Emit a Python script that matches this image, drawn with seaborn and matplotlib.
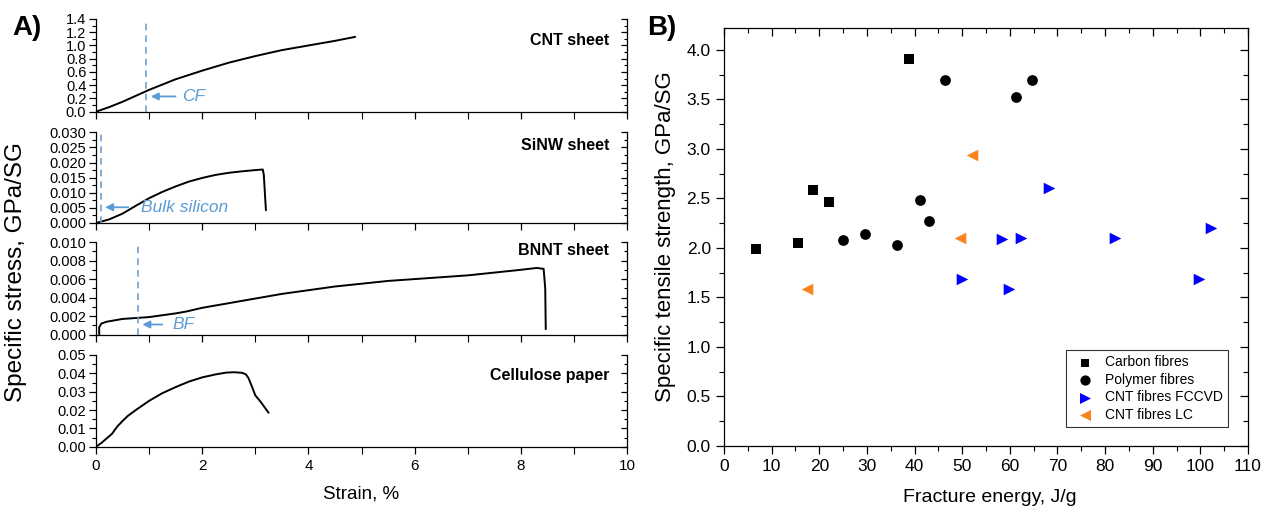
import matplotlib
matplotlib.use("Agg")
import matplotlib.pyplot as plt
import pandas as pd
import seaborn as sns
from matplotlib.ticker import MultipleLocator, FormatStrFormatter, NullFormatter

# ---------------- Panel A data (strain %, specific stress GPa/SG) ----------------
cnt_strain = [0, 0.25, 0.5, 0.75, 1.0, 1.5, 2.0, 2.5, 3.0, 3.5, 4.0, 4.5, 4.88]
cnt_stress = [0, 0.07, 0.15, 0.24, 0.33, 0.49, 0.62, 0.74, 0.84, 0.93, 1.00, 1.07, 1.13]

sinw_strain = [0, 0.25, 0.5, 0.75, 1.0, 1.25, 1.5, 1.75, 2.0, 2.25, 2.5, 2.75, 3.0, 3.14, 3.16, 3.2]
sinw_stress = [0, 0.0012, 0.0031, 0.0057, 0.0082, 0.0103, 0.0121, 0.0137, 0.0149, 0.0159,
               0.0166, 0.0171, 0.0175, 0.0177, 0.0160, 0.0042]

bnnt_strain = [0.06, 0.06, 0.1, 0.2, 0.5, 1.0, 1.5, 1.7, 2.0, 2.5, 3.0, 3.5, 4.0, 4.5, 5.0,
               5.5, 6.0, 6.5, 7.0, 7.5, 8.0, 8.3, 8.43, 8.46, 8.47]
bnnt_stress = [0, 0.0008, 0.0012, 0.0014, 0.0017, 0.0019, 0.0023, 0.0025, 0.0029, 0.0034,
               0.0039, 0.0044, 0.0048, 0.0052, 0.0055, 0.0058, 0.0060, 0.0062, 0.0064,
               0.0067, 0.0070, 0.0072, 0.0071, 0.0050, 0.0006]

cell_strain = [0, 0.1, 0.2, 0.3, 0.4, 0.5, 0.6, 0.75, 1.0, 1.25, 1.5, 1.75, 2.0, 2.25, 2.45,
               2.6, 2.75, 2.82, 2.87, 2.92, 3.0, 3.1, 3.25]
cell_stress = [0, 0.002, 0.0045, 0.007, 0.011, 0.0140, 0.0168, 0.0200, 0.0250, 0.0292,
               0.0325, 0.0355, 0.0378, 0.0394, 0.0404, 0.0406, 0.0403, 0.0395, 0.0375,
               0.0340, 0.0280, 0.0245, 0.0185]

sample_names = ["CNT sheet", "SiNW sheet", "BNNT sheet", "Cellulose paper"]

# ---------------- Panel B data (fracture energy J/g, specific strength GPa/SG) ----------------
carbon_energy = [6.7, 15.5, 18.7, 22.1, 38.9]
carbon_strength = [1.99, 2.05, 2.58, 2.46, 3.91]

polymer_energy = [24.9, 29.7, 36.3, 41.1, 43.0, 46.3, 61.3, 64.6]
polymer_strength = [2.08, 2.14, 2.03, 2.48, 2.27, 3.70, 3.52, 3.70]

fccvd_energy = [50.0, 58.3, 59.8, 62.3, 68.2, 82.1, 99.7, 102.3]
fccvd_strength = [1.69, 2.09, 1.59, 2.10, 2.60, 2.10, 1.69, 2.20]

lc_energy = [17.5, 49.5, 52.0]
lc_strength = [1.59, 2.10, 2.94]

group_names = ["Carbon fibres", "Polymer fibres", "CNT fibres FCCVD", "CNT fibres LC"]

# ---------------- style ----------------
sns.set_theme(style="ticks")
plt.rcParams['font.family'] = ['Liberation Sans', 'DejaVu Sans']
plt.rcParams.update({
    'axes.edgecolor': 'black', 'axes.linewidth': 0.9,
    'xtick.color': 'black', 'ytick.color': 'black',
    'text.color': 'black', 'axes.labelcolor': 'black',
})

W, H = 1267, 508
fig = plt.figure(figsize=(W / 100, H / 100), dpi=100)


def rect(l, t, r, b):
    return [l / W, 1 - b / H, (r - l) / W, (b - t) / H]


ANN = '#5B9BD5'
DASH = '#6F9FCB'

panelsA = [
    (cnt_strain, cnt_stress, (96, 19, 627, 111.7), 1.4, 0.2, 0.1, '%.1f', 0.765),
    (sinw_strain, sinw_stress, (96, 132.3, 627, 223), 0.030, 0.005, 0.0025, '%.3f', 0.85),
    (bnnt_strain, bnnt_stress, (96, 242, 627, 334.7), 0.010, 0.002, 0.001, '%.3f', 0.91),
    (cell_strain, cell_stress, (96, 355, 627, 446.7), 0.05, 0.01, 0.005, '%.2f', 0.78),
]

axesA = []
for i, (xs, ys, box, ymax, maj, mnr, fmt, ty) in enumerate(panelsA):
    ax = fig.add_axes(rect(*box))
    df = pd.DataFrame({'strain': xs, 'stress': ys})
    sns.lineplot(data=df, x='strain', y='stress', sort=False, estimator=None,
                 color='black', lw=1.4, ax=ax)
    ax.set_xlim(0, 10)
    ax.set_ylim(0, ymax)
    ax.set_xlabel('')
    ax.set_ylabel('')
    ax.spines['top'].set_visible(False)
    ax.spines['right'].set_visible(False)
    ax.xaxis.set_major_locator(MultipleLocator(2))
    ax.xaxis.set_minor_locator(MultipleLocator(1))
    ax.yaxis.set_major_locator(MultipleLocator(maj))
    ax.yaxis.set_minor_locator(MultipleLocator(mnr))
    ax.yaxis.set_major_formatter(FormatStrFormatter(fmt))
    ax.tick_params(which='major', direction='out', length=5, width=0.9, labelsize=10.5, pad=2)
    ax.tick_params(which='minor', direction='out', length=3, width=0.8)
    ax.tick_params(axis='x', which='major', length=5)
    ax.tick_params(axis='x', which='minor', length=5)
    if i < 3:
        ax.tick_params(axis='x', labelbottom=False)
    else:
        ax.tick_params(axis='x', labelsize=11, pad=4)
    sec = ax.secondary_yaxis('right')
    sec.yaxis.set_major_locator(MultipleLocator(maj))
    sec.yaxis.set_minor_locator(MultipleLocator(mnr))
    sec.yaxis.set_major_formatter(NullFormatter())
    sec.tick_params(which='major', direction='in', length=4, width=0.9)
    sec.tick_params(which='minor', direction='in', length=2.5, width=0.8)
    ax.text(0.966, ty, sample_names[i], transform=ax.transAxes, ha='right', va='center',
            fontsize=11.5, fontweight='bold')
    axesA.append(ax)

# reference lines and annotations
a1, a2, a3, a4 = axesA
a1.axvline(0.95, color=DASH, ls=(0, (4, 3)), lw=1.2)
a1.annotate('', xy=(0.98, 0.23), xytext=(1.55, 0.23),
            arrowprops=dict(arrowstyle='-|>', color=ANN, lw=1.3, mutation_scale=11))
a1.text(1.62, 0.23, 'CF', style='italic', color=ANN, fontsize=12.5, va='center')

a2.axvline(0.09, color=DASH, ls=(0, (4, 3)), lw=1.2)
a2.annotate('', xy=(0.12, 0.0052), xytext=(0.66, 0.0052),
            arrowprops=dict(arrowstyle='-|>', color=ANN, lw=1.3, mutation_scale=11))
a2.text(0.85, 0.0050, 'Bulk silicon', style='italic', color=ANN, fontsize=12.5, va='center')

a3.axvline(0.79, color=DASH, ls=(0, (4, 3)), lw=1.2)
a3.annotate('', xy=(0.82, 0.0011), xytext=(1.3, 0.0011),
            arrowprops=dict(arrowstyle='-|>', color=ANN, lw=1.3, mutation_scale=11))
a3.text(1.44, 0.0011, 'BF', style='italic', color=ANN, fontsize=12.5, va='center')

fig.text(16 / W, 1 - 272 / H, 'Specific stress, GPa/SG', rotation=90, ha='center', va='center',
         fontsize=17.5)
fig.text(361 / W, 1 - 494 / H, 'Strain, %', ha='center', va='center', fontsize=13.5)
fig.text(12 / W, 1 - 28 / H, 'A)', ha='left', va='center', fontsize=20, fontweight='bold')

# ---------------- Panel B ----------------
axB = fig.add_axes(rect(724, 28, 1248, 446))
groups = [
    (carbon_energy, carbon_strength, 's', 'black', 45),
    (polymer_energy, polymer_strength, 'o', 'black', 60),
    (fccvd_energy, fccvd_strength, '>', '#0000FF', 70),
    (lc_energy, lc_strength, '<', '#F7841E', 70),
]
for name, (xs, ys, mk, col, s) in zip(group_names, groups):
    dfb = pd.DataFrame({'energy': xs, 'strength': ys})
    sns.scatterplot(data=dfb, x='energy', y='strength', marker=mk, color=col, s=s,
                    linewidth=0, label=name, ax=axB)
axB.set_xlim(0, 110)
axB.set_ylim(0, 4.22)
axB.set_xlabel('')
axB.set_ylabel('')
axB.xaxis.set_major_locator(MultipleLocator(10))
axB.xaxis.set_minor_locator(MultipleLocator(5))
axB.yaxis.set_major_locator(MultipleLocator(0.5))
axB.yaxis.set_minor_locator(MultipleLocator(0.25))
axB.yaxis.set_major_formatter(FormatStrFormatter('%.1f'))
axB.tick_params(which='major', direction='out', length=6, width=0.9, labelsize=12.5)
axB.tick_params(which='minor', direction='out', length=3.5, width=0.8)
axB.spines['top'].set_visible(False)
axB.spines['right'].set_visible(False)
secx = axB.secondary_xaxis('top')
secx.xaxis.set_major_locator(MultipleLocator(10))
secx.xaxis.set_minor_locator(MultipleLocator(5))
secx.xaxis.set_major_formatter(NullFormatter())
secx.tick_params(which='major', direction='in', length=6, width=0.9)
secx.tick_params(which='minor', direction='in', length=3.5, width=0.8)
secy = axB.secondary_yaxis('right')
secy.yaxis.set_major_locator(MultipleLocator(0.5))
secy.yaxis.set_minor_locator(MultipleLocator(0.25))
secy.yaxis.set_major_formatter(NullFormatter())
secy.tick_params(which='major', direction='in', length=6, width=0.9)
secy.tick_params(which='minor', direction='in', length=3.5, width=0.8)

handles, labels = axB.get_legend_handles_labels()
leg = axB.legend(handles, labels, loc='lower right', bbox_to_anchor=(0.962, 0.045),
                 borderaxespad=0, fontsize=10, frameon=True, fancybox=False,
                 edgecolor='black', handletextpad=0.4, labelspacing=0.25,
                 borderpad=0.4, markerscale=0.95)
leg.get_frame().set_linewidth(0.8)

fig.text(665 / W, 1 - 237 / H, 'Specific tensile strength, GPa/SG', rotation=90,
         ha='center', va='center', fontsize=16)
fig.text(990 / W, 1 - 497 / H, 'Fracture energy, J/g', ha='center', va='center', fontsize=14)
fig.text(647 / W, 1 - 28 / H, 'B)', ha='left', va='center', fontsize=20, fontweight='bold')

fig.savefig('out.png', dpi=100)
